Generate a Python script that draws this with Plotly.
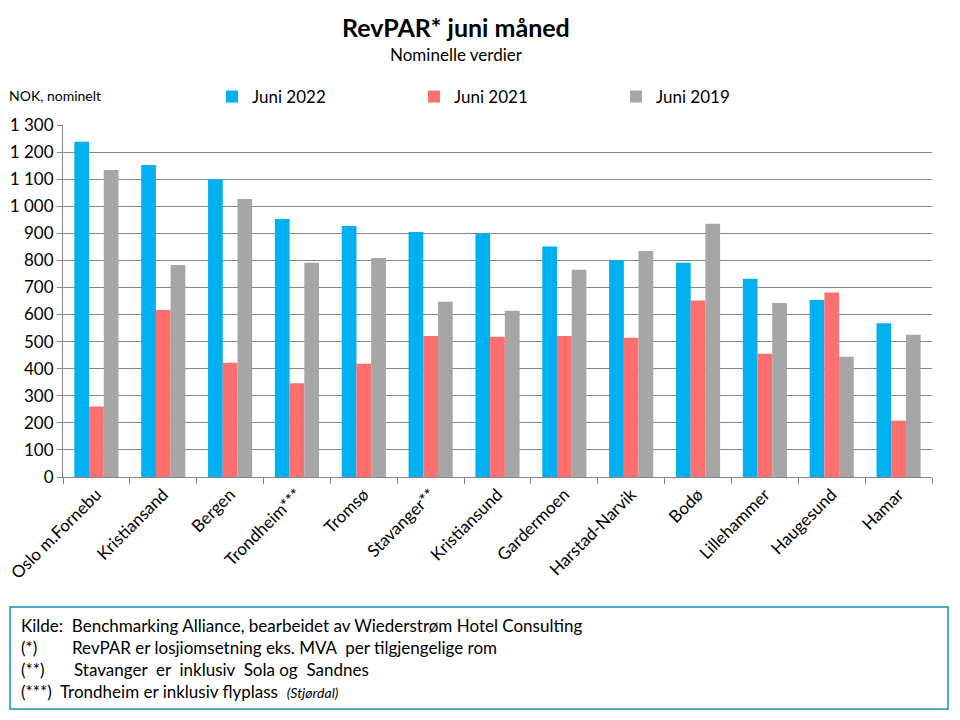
import plotly.graph_objects as go

categories = ["Oslo m.Fornebu", "Kristiansand", "Bergen", "Trondheim***", "Tromsø",
              "Stavanger**", "Kristiansund", "Gardermoen", "Harstad-Narvik", "Bodø",
              "Lillehammer", "Haugesund", "Hamar"]
juni_2022 = [1238, 1152, 1100, 953, 927, 905, 900, 851, 801, 791, 732, 654, 568]
juni_2021 = [260, 617, 422, 346, 418, 521, 518, 521, 514, 652, 455, 681, 208]
juni_2019 = [1134, 783, 1027, 791, 809, 647, 614, 765, 835, 935, 643, 444, 525]
series_names = ["Juni 2022", "Juni 2021", "Juni 2019"]
series_colors = ["#00B0F0", "#FF6F6F", "#A6A6A6"]
y_ticks = list(range(0, 1301, 100))

FONT = "Lato"
L, R, T, B = 63, 932, 125, 477
W, H = R - L, B - T

def px(x):
    return (x - L) / W

def py(y):
    return (B - y) / H

fig = go.Figure()
for name, vals, col in zip(series_names, [juni_2022, juni_2021, juni_2019], series_colors):
    fig.add_trace(go.Bar(x=categories, y=vals, name=name, marker_color=col,
                         marker_line_width=0))

fig.update_layout(
    width=960, height=720,
    margin=dict(l=L, r=960 - R, t=T, b=720 - B, autoexpand=False),
    paper_bgcolor="white", plot_bgcolor="white",
    barmode="group", bargap=0.34, bargroupgap=0,
    separators=", ",
    font=dict(family=FONT, color="black"),
    showlegend=True,
    legend=dict(orientation="h", x=px(212), y=py(97), xanchor="left", yanchor="middle",
                entrywidth=157, entrywidthmode="pixels",
                font=dict(size=17, family=FONT), itemsizing="constant",
                traceorder="normal", bgcolor="rgba(0,0,0,0)"),
)

fig.update_yaxes(range=[0, 1300], tickvals=y_ticks, tickformat=",d",
                 showgrid=True, gridcolor="#868686", gridwidth=1,
                 showline=True, linecolor="#868686", linewidth=1,
                 ticks="outside", ticklen=5, tickcolor="#868686",
                 tickfont=dict(size=17, family=FONT), zeroline=False)
fig.update_xaxes(showline=True, linecolor="#868686", linewidth=1,
                 ticks="outside", ticklen=6, tickcolor="#868686",
                 tickson="boundaries", tickangle=-45,
                 tickfont=dict(size=17, family=FONT), showgrid=False)

ann = []
ann.append(dict(text="<b>RevPAR* juni måned</b>", x=px(456), y=py(27), xref="paper", yref="paper",
                showarrow=False, font=dict(size=25, family=FONT), xanchor="center", yanchor="middle"))
ann.append(dict(text="Nominelle verdier", x=px(456), y=py(54), xref="paper", yref="paper",
                showarrow=False, font=dict(size=17, family=FONT), xanchor="center", yanchor="middle"))
ann.append(dict(text="NOK, nominelt", x=px(7), y=py(95), xref="paper", yref="paper",
                showarrow=False, font=dict(size=14, family=FONT), xanchor="left", yanchor="middle"))

foot = [
    (19, 625, "Kilde:  Benchmarking Alliance, bearbeidet av Wiederstrøm Hotel Consulting"),
    (19, 647, "(*)"),
    (70, 647, "RevPAR er losjiomsetning eks. MVA  per tilgjengelige rom"),
    (19, 669, "(**)"),
    (72, 669, "Stavanger  er  inklusiv  Sola og  Sandnes"),
    (19, 691, "(***)  Trondheim er inklusiv flyplass  <i><span style='font-size:14px'>(Stjørdal)</span></i>"),
]
for x, y, t in foot:
    ann.append(dict(text=t, x=px(x), y=py(y), xref="paper", yref="paper", showarrow=False,
                    font=dict(size=17, family=FONT), xanchor="left", yanchor="middle"))
fig.update_layout(annotations=ann)

fig.add_shape(type="rect", xref="paper", yref="paper",
              x0=px(10), x1=px(948), y0=py(607), y1=py(709),
              line=dict(color="#4BACC6", width=2), fillcolor="rgba(0,0,0,0)")

fig.write_html("out.html", config={"displayModeBar": False},
               post_script="document.body.style.margin='0px';")
